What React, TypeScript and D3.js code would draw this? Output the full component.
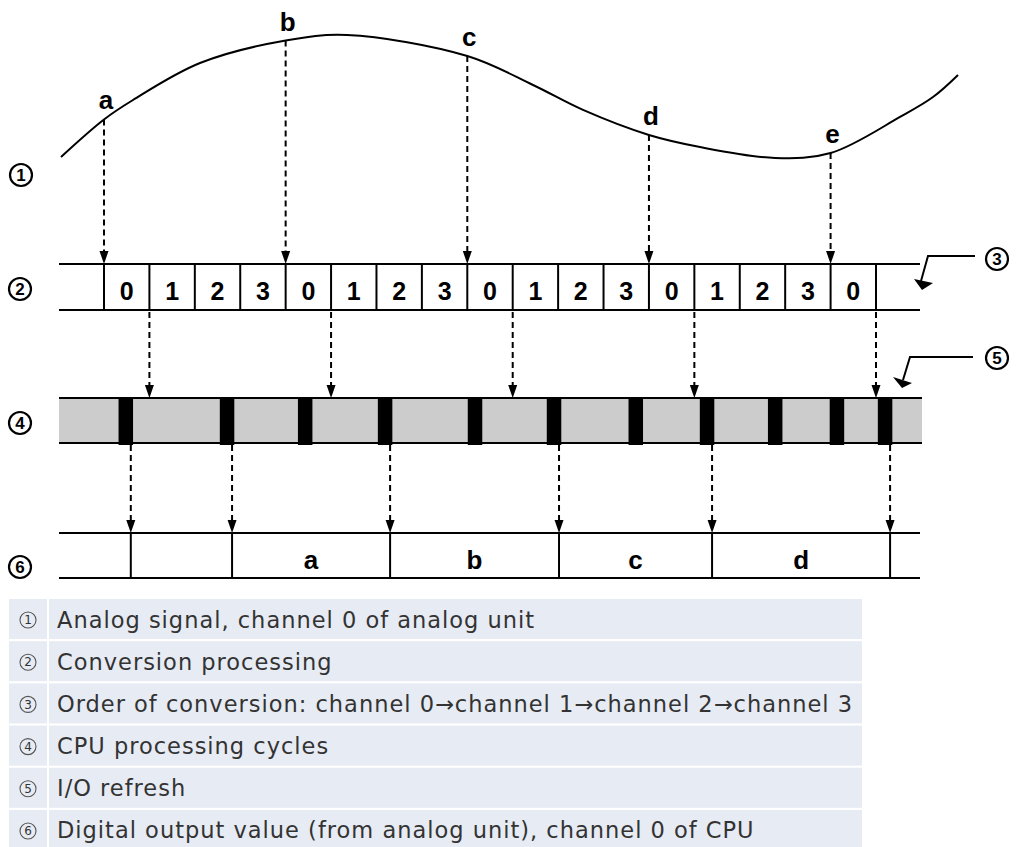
import React from 'react';
import * as d3 from 'd3';

// ---- data (time axis in conversion-cell units; one cell = one channel conversion) ----
const cellChannels = ['0', '1', '2', '3', '0', '1', '2', '3', '0', '1', '2', '3', '0', '1', '2', '3', '0'];
const signalT = [-0.947, 0, 0.639, 2.114, 4, 5.351, 8, 9.447, 10.548, 12, 13.124, 14.776, 16, 17.529, 18.255, 18.806];
const signalV = [9.3, 36.1, 50, 76.4, 92.5, 96.4, 81.4, 60.7, 42.9, 25, 16.4, 8.6, 12.1, 37.9, 52.1, 67.9];
const sampleTimes = [0, 4, 8, 12, 16];
const sampleLabels = ['a', 'b', 'c', 'd', 'e'];
const conversionDoneTimes = [1, 5, 9, 13, 17];
const refreshCenters = [0.48, 2.71, 4.43, 6.19, 8.17, 9.91, 11.71, 13.28, 14.78, 16.14, 17.2];
const outputRefreshIdx = [0, 1, 3, 5, 7, 10];
const outputLabels = ['', 'a', 'b', 'c', 'd'];
const legendNums = ['1', '2', '3', '4', '5', '6'];
const legendTexts = [
  'Analog signal, channel 0 of analog unit',
  'Conversion processing',
  'Order of conversion: channel 0\u2192channel 1\u2192channel 2\u2192channel 3',
  'CPU processing cycles',
  'I/O refresh',
  'Digital output value (from analog unit), channel 0 of CPU',
];

const W = 1020;
const H = 847;
const FONT = 'Liberation Sans, Arial, Helvetica, sans-serif';
const LFONT = 'DejaVu Sans, Verdana, sans-serif';

const x = d3.scaleLinear().domain([0, 17]).range([104, 876]);
const ySig = d3.scaleLinear().domain([0, 100]).range([170, 30]);
const legendY = d3.scaleBand<number>().domain(d3.range(6)).range([599, 850]).paddingInner(0.05);

const R2 = { top: 264, bottom: 310 };
const R4 = { top: 398, bottom: 443 };
const R6 = { top: 533, bottom: 578 };
const rowL = 59;
const rowR = 920;
const blockW = 14.5;

function Arrow({ xv, y1, y2 }: { xv: number; y1: number; y2: number }) {
  const head = 13;
  return (
    <g>
      <line x1={xv} x2={xv} y1={y1} y2={y2 - head} stroke="#000" strokeWidth={2} strokeDasharray="6,4" />
      <path d={`M${xv},${y2} L${xv - 4.5},${y2 - head} L${xv + 4.5},${y2 - head} Z`} fill="#000" />
    </g>
  );
}

function Circled({ cx, cy, n }: { cx: number; cy: number; n: string }) {
  return (
    <g>
      <circle cx={cx} cy={cy} r={11} fill="#fff" stroke="#000" strokeWidth={2.2} />
      <text x={cx} y={cy + 6} textAnchor="middle" fontFamily={FONT} fontWeight="bold" fontSize={17}>
        {n}
      </text>
    </g>
  );
}

export default function App() {
  const pts: [number, number][] = signalT.map((t, i) => [t, signalV[i]]);
  const line = d3
    .line<[number, number]>()
    .x((d) => x(d[0]))
    .y((d) => ySig(d[1]))
    .curve(d3.curveCatmullRom.alpha(0.5));
  const sigAt = (t: number) => ySig(signalV[signalT.indexOf(t)]);
  const outXs = outputRefreshIdx.map((i) => x(refreshCenters[i]) + 5);

  return (
    <svg width={W} height={H} style={{ position: 'absolute', left: 0, top: 0, background: '#fff' }}>
      {/* analog signal */}
      <path d={line(pts) || ''} fill="none" stroke="#000" strokeWidth={2} />
      {sampleTimes.map((t, i) => (
        <g key={'s' + i}>
          <text x={x(t) + 2} y={sigAt(t) - 10} textAnchor="middle" fontFamily={FONT} fontWeight="bold" fontSize={26}>
            {sampleLabels[i]}
          </text>
          <Arrow xv={x(t)} y1={sigAt(t)} y2={R2.top} />
        </g>
      ))}

      {/* conversion row */}
      <line x1={rowL} x2={rowR} y1={R2.top} y2={R2.top} stroke="#000" strokeWidth={2} />
      <line x1={rowL} x2={rowR} y1={R2.bottom} y2={R2.bottom} stroke="#000" strokeWidth={2} />
      {d3.range(cellChannels.length + 1).map((i) => (
        <line key={'cv' + i} x1={x(i)} x2={x(i)} y1={R2.top} y2={R2.bottom} stroke="#000" strokeWidth={2} />
      ))}
      {cellChannels.map((c, i) => (
        <text key={'ct' + i} x={x(i + 0.5)} y={300} textAnchor="middle" fontFamily={FONT} fontWeight="bold" fontSize={25}>
          {c}
        </text>
      ))}
      {conversionDoneTimes.map((t, i) => (
        <Arrow key={'a2' + i} xv={x(t)} y1={R2.bottom + 2} y2={R4.top} />
      ))}

      {/* CPU cycles row */}
      <rect x={rowL} y={R4.top} width={rowR + 2 - rowL} height={R4.bottom - R4.top} fill="#cccccc" />
      <line x1={rowL} x2={rowR + 2} y1={R4.top} y2={R4.top} stroke="#000" strokeWidth={2} />
      <line x1={rowL} x2={rowR + 2} y1={R4.bottom} y2={R4.bottom} stroke="#000" strokeWidth={2} />
      {refreshCenters.map((t, i) => (
        <rect key={'b' + i} x={x(t) - blockW / 2} y={R4.top} width={blockW} height={R4.bottom + 2 - R4.top} fill="#000" />
      ))}
      {outXs.map((xv, i) => (
        <Arrow key={'a4' + i} xv={xv} y1={R4.bottom + 2} y2={R6.top} />
      ))}

      {/* output row */}
      <line x1={rowL} x2={rowR} y1={R6.top} y2={R6.top} stroke="#000" strokeWidth={2} />
      <line x1={rowL} x2={rowR} y1={R6.bottom} y2={R6.bottom} stroke="#000" strokeWidth={2} />
      {outXs.map((xv, i) => (
        <line key={'ov' + i} x1={xv} x2={xv} y1={R6.top} y2={R6.bottom} stroke="#000" strokeWidth={2} />
      ))}
      {outputLabels.map((l, i) => (
        <text key={'ol' + i} x={(outXs[i] + outXs[i + 1]) / 2} y={569} textAnchor="middle" fontFamily={FONT} fontWeight="bold" fontSize={26}>
          {l}
        </text>
      ))}

      {/* callouts */}
      <path d="M975,256 L928,256 L921,281" fill="none" stroke="#000" strokeWidth={2} />
      <path d="M914,279 L933,283 L922,290 Z" fill="#000" />
      <path d="M973,357 L910,357 L903,380" fill="none" stroke="#000" strokeWidth={2} />
      <path d="M893,377 L912,383 L902,388 Z" fill="#000" />

      <Circled cx={21} cy={175} n="1" />
      <Circled cx={20} cy={289} n="2" />
      <Circled cx={997} cy={259} n="3" />
      <Circled cx={20} cy={423} n="4" />
      <Circled cx={997} cy={358} n="5" />
      <Circled cx={20} cy={567} n="6" />

      {/* legend table */}
      {legendTexts.map((t, i) => {
        const y0 = legendY(i) as number;
        const h = legendY.bandwidth();
        const cy = y0 + h / 2;
        return (
          <g key={'lg' + i}>
            <rect x={9} y={y0} width={38} height={h} fill="#e7ebf3" />
            <rect x={49} y={y0} width={862 - 49} height={h} fill="#e7ebf3" />
            <circle cx={28} cy={cy + 1} r={8} fill="none" stroke="#555" strokeWidth={1.1} />
            <text x={28} y={cy + 5.2} textAnchor="middle" fontFamily={LFONT} fontSize={12} fill="#333">
              {legendNums[i]}
            </text>
            <text x={57} y={cy + 8.5} fontFamily={LFONT} fontSize={22.5} letterSpacing={1.0} fill="#333">
              {t}
            </text>
          </g>
        );
      })}
    </svg>
  );
}
